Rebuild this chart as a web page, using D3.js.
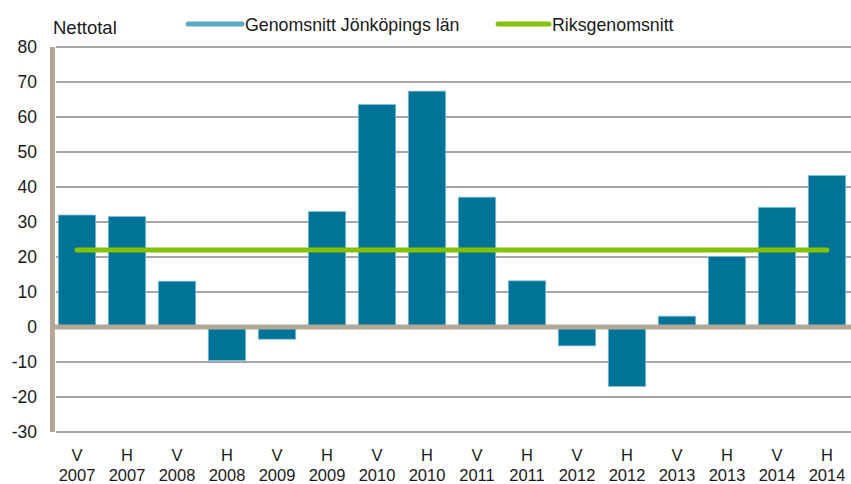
<!DOCTYPE html>
<html><head><meta charset="utf-8">
<script src="https://cdn.jsdelivr.net/npm/d3@7"></script>
<style>body{margin:0;background:#fff;} text{font-family:"Liberation Sans",Arial,sans-serif;fill:#1a1a1a;}</style>
</head><body><svg id="c" width="851" height="484"></svg>
<script>
const halves = ["V","H","V","H","V","H","V","H","V","H","V","H","V","H","V","H"];
const years = ["2007","2007","2008","2008","2009","2009","2010","2010","2011","2011","2012","2012","2013","2013","2014","2014"];
const jonkoping = [32,31.6,13.1,-9.6,-3.5,33,63.6,67.4,37.1,13.2,-5.4,-17,3.1,20.2,34.2,43.3];
const riks = [22,22,22,22,22,22,22,22,22,22,22,22,22,22,22,22];
const yTicks = [80,70,60,50,40,30,20,10,0,-10,-20,-30];
const seriesNames = ["Genomsnitt Jönköpings län","Riksgenomsnitt"];

const cats = halves.map((h,i)=>h+" "+years[i]);
const svg = d3.select("#c");
const x = d3.scaleBand().domain(cats).range([52,852]).paddingInner(0.25).paddingOuter(0.125);
const y = d3.scaleLinear().domain([-30,80]).range([432,47]);

// gridlines
svg.append("g").selectAll("line").data(yTicks.filter(d=>d!==0)).join("line")
  .attr("x1",56).attr("x2",851).attr("y1",d=>y(d)).attr("y2",d=>y(d))
  .attr("stroke","#8a8a8a").attr("stroke-width",1.3);

// y axis labels
const yAxis = d3.axisLeft(y).tickValues(yTicks).tickFormat(d=>String(d)).tickSize(0).tickPadding(0);
const ya = svg.append("g").attr("transform","translate(37,0)").call(yAxis);
ya.select(".domain").remove();
ya.selectAll("text").style("font-size","17.5px").style("font-family","Liberation Sans, Arial, sans-serif").attr("fill","#1a1a1a");

// bars
svg.append("g").selectAll("rect").data(jonkoping).join("rect")
  .attr("x",(d,i)=>x(cats[i])).attr("width",x.bandwidth())
  .attr("y",d=>y(Math.max(0,d))).attr("height",d=>Math.abs(y(d)-y(0)))
  .attr("fill","#007396").attr("stroke","#8ec6dc").attr("stroke-width",0.8);

// zero line
svg.append("line").attr("x1",50).attr("x2",851).attr("y1",y(0)).attr("y2",y(0))
  .attr("stroke","#b2a898").attr("stroke-width",5);
// y axis line
svg.append("line").attr("x1",52.5).attr("x2",52.5).attr("y1",y(80)).attr("y2",y(-30))
  .attr("stroke","#b2a898").attr("stroke-width",5);

// riks line
const line = d3.line().x((d,i)=>x(cats[i])+x.bandwidth()/2).y(d=>y(d));
svg.append("path").datum(riks).attr("d",line).attr("fill","none")
  .attr("stroke","#84c100").attr("stroke-width",5).attr("stroke-linecap","round");

// x labels
const xl = svg.append("g").selectAll("g").data(cats).join("g")
  .attr("transform",(d)=>`translate(${x(d)+x.bandwidth()/2},0)`);
xl.append("text").attr("y",461).attr("text-anchor","middle").style("font-size","16.5px").text((d,i)=>halves[i]);
xl.append("text").attr("y",481).attr("text-anchor","middle").style("font-size","16.5px").text((d,i)=>years[i]);

// title
svg.append("text").attr("x",53).attr("y",34).style("font-size","18.5px").text("Nettotal");

// legend
const leg = [{x1:188,x2:242,c:"#5aaac6",t:seriesNames[0]},{x1:498,x2:549,c:"#84c100",t:seriesNames[1]}];
const lg = svg.append("g").selectAll("g").data(leg).join("g");
lg.append("line").attr("x1",d=>d.x1).attr("x2",d=>d.x2).attr("y1",24).attr("y2",24)
  .attr("stroke",d=>d.c).attr("stroke-width",5).attr("stroke-linecap","round");
lg.append("text").attr("x",d=>d.x2+3).attr("y",30.5).style("font-size","17.8px").text(d=>d.t);
</script></body></html>
